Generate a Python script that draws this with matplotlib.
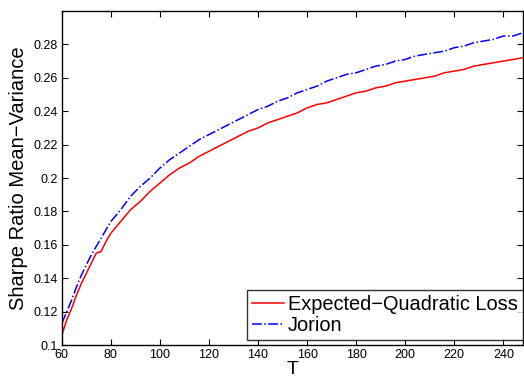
import numpy as np
import matplotlib
matplotlib.use("Agg")
import matplotlib.pyplot as plt

plt.rcParams['font.family'] = ['Liberation Sans', 'DejaVu Sans']

# horizon T
T = [60, 62, 64, 66, 68, 70, 72, 74, 76, 78, 80, 84, 88, 92, 96, 100, 104, 108,
     112, 116, 120, 124, 128, 132, 136, 140, 144, 148, 152, 156, 160, 164, 168,
     172, 176, 180, 184, 188, 192, 196, 200, 204, 208, 212, 216, 220, 224, 228,
     232, 236, 240, 244, 248]

# Sharpe ratio, expected quadratic loss rule
sr_eql = [0.106, 0.115, 0.122, 0.130, 0.137, 0.143, 0.149, 0.155, 0.156, 0.162,
          0.167, 0.174, 0.181, 0.186, 0.192, 0.197, 0.202, 0.206, 0.209, 0.213,
          0.216, 0.219, 0.222, 0.225, 0.228, 0.230, 0.233, 0.235, 0.237, 0.239,
          0.242, 0.244, 0.245, 0.247, 0.249, 0.251, 0.252, 0.254, 0.255, 0.257,
          0.258, 0.259, 0.260, 0.261, 0.263, 0.264, 0.265, 0.267, 0.268, 0.269,
          0.270, 0.271, 0.272]

# Sharpe ratio, Jorion shrinkage
sr_jorion = [0.113, 0.120, 0.127, 0.135, 0.142, 0.148, 0.154, 0.159, 0.164, 0.169,
             0.174, 0.181, 0.189, 0.195, 0.200, 0.206, 0.211, 0.215, 0.219, 0.223,
             0.226, 0.229, 0.232, 0.235, 0.238, 0.241, 0.243, 0.246, 0.248, 0.251,
             0.253, 0.255, 0.258, 0.260, 0.262, 0.263, 0.265, 0.267, 0.268, 0.270,
             0.271, 0.273, 0.274, 0.275, 0.276, 0.278, 0.279, 0.281, 0.282, 0.283,
             0.285, 0.285, 0.287]

fig = plt.figure(figsize=(5.24, 3.78), dpi=100)
ax = fig.add_axes([0.118, 0.087, 0.880, 0.884])

ax.plot(T, sr_eql, 'r-', lw=1.1, label='Expected\u2212Quadratic Loss')
ax.plot(T, sr_jorion, 'b-.', lw=1.1, label='Jorion')

ax.set_xlim(60, 248)
ax.set_ylim(0.1, 0.3)
ax.set_xticks(np.arange(60, 241, 20))
ax.set_yticks([0.1, 0.12, 0.14, 0.16, 0.18, 0.2, 0.22, 0.24, 0.26, 0.28])
ax.set_yticklabels(['0.1', '0.12', '0.14', '0.16', '0.18', '0.2', '0.22', '0.24', '0.26', '0.28'])
ax.tick_params(direction='in', top=True, right=True, labelsize=9, length=4, pad=3)
for s in ax.spines.values():
    s.set_linewidth(1.0)

ax.set_xlabel('T', fontsize=14, labelpad=0)
ax.set_ylabel('Sharpe Ratio Mean\u2212Variance', fontsize=14.5, labelpad=4)

leg = ax.legend(loc='lower right', bbox_to_anchor=(1.0, 0.015), fontsize=14.4,
                frameon=True, fancybox=False, edgecolor='black', borderpad=0.25,
                handlelength=1.6, handletextpad=0.2, labelspacing=0.1,
                borderaxespad=0.0)
leg.get_frame().set_linewidth(1.0)

fig.savefig('out.png', dpi=100)
